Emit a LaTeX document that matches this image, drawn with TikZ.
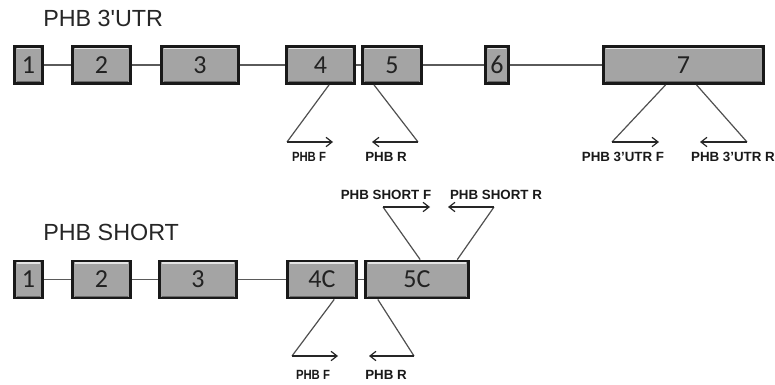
\documentclass[tikz,border=0pt]{standalone}
\usepackage{fontspec}
\setmainfont{Liberation Sans}
\newfontfamily\numfont{Carlito}
\usetikzlibrary{arrows.meta,calc}
\definecolor{exonfill}{HTML}{A4A4A4}
\definecolor{intron}{HTML}{5A5A5A}
\definecolor{primer}{HTML}{505050}
\definecolor{numcol}{HTML}{222222}
\tikzset{
  exon/.style={draw=black!90, line width=2.1pt, fill=exonfill, rectangle, inner sep=0pt,
    minimum width=#1*0.75pt-2.1pt, minimum height=37*0.75pt,
    font=\numfont\fontsize{19.5}{20}\selectfont, text=numcol,
    path picture={
      \draw[line width=1.1pt, white!72!exonfill]
        ([xshift=1.6pt,yshift=-1.5pt]path picture bounding box.north west) --
        ([xshift=-1.6pt,yshift=-1.5pt]path picture bounding box.north east);
      \draw[line width=1pt, black!35!exonfill]
        ([xshift=1.6pt,yshift=1.3pt]path picture bounding box.south west) --
        ([xshift=-1.6pt,yshift=1.3pt]path picture bounding box.south east);
    }},
  intronline/.style={draw=intron, line width=1.1pt},
  primerline/.style={draw=primer, line width=0.9pt},
  primerarrow/.style={draw=black!85, line width=0.9pt, -{Straight Barb[length=4.5pt,width=7pt]}},
  title/.style={inner sep=0pt, anchor=base west, font=\fontsize{17.5}{18}\selectfont, text=black!85},
  plabel/.style={inner sep=0pt, font=\bfseries\fontsize{10}{11}\selectfont, text=black!90},
}
\begin{document}
\begin{tikzpicture}[x=0.75pt,y=-0.75pt]
\useasboundingbox[fill=white] (0,0) rectangle (775,385);

% titles
\node[title] (t1) at (43,27) {PHB 3\textquotesingle UTR};
\node[title] (t2) at (43,240) {PHB SHORT};

% top row exons
\node[exon=31] (a1) at (28.5,65) {1};
\node[exon=61] (a2) at (101.5,65) {2};
\node[exon=80] (a3) at (200,65) {3};
\node[exon=71] (a4) at (320.5,65) {4};
\node[exon=62] (a5) at (392,65) {5};
\node[exon=26] (a6) at (497,65) {6};
\node[exon=163] (a7) at (683.5,65) {7};
\draw[intronline] (a1) -- (a2);
\draw[intronline] (a2) -- (a3);
\draw[intronline] (a3) -- (a4);
\draw[intronline] (a4) -- (a5);
\draw[intronline] (a5) -- (a6);
\draw[intronline] (a6) -- (a7);

% bottom row exons
\node[exon=31] (b1) at (28.5,279.5) {1};
\node[exon=61] (b2) at (101.5,279.5) {2};
\node[exon=80] (b3) at (198,279.5) {3};
\node[exon=72] (b4) at (322,279.5) {4C};
\node[exon=106] (b5) at (417,279.5) {5C};
\draw[intronline] (b1) -- (b2);
\draw[intronline] (b2) -- (b3);
\draw[intronline] (b3) -- (b4);
\draw[intronline] (b4) -- (b5);

% top primers
\coordinate (pf4s) at ($(a4.south west)!0.62!(a4.south east)$);
\coordinate (pf4c) at (287,142);
\coordinate (pf4e) at (333,142);
\draw[primerline] (pf4s) -- (pf4c);
\draw[primerarrow] (pf4c) -- (pf4e);
\node[plabel, xscale=0.85] (lf4) at (309,156.5) {PHB F};

\coordinate (pr5s) at ($(a5.south west)!0.21!(a5.south east)$);
\coordinate (pr5c) at (418,142);
\coordinate (pr5e) at (372,142);
\draw[primerline] (pr5s) -- (pr5c);
\draw[primerarrow] (pr5c) -- (pr5e);
\node[plabel] (lr5) at (386,156.5) {PHB R};

\coordinate (pf7s) at ($(a7.south west)!0.39!(a7.south east)$);
\coordinate (pf7c) at (612,142);
\coordinate (pf7e) at (659,142);
\draw[primerline] (pf7s) -- (pf7c);
\draw[primerarrow] (pf7c) -- (pf7e);
\node[plabel] (lf7) at (623,156.5) {PHB 3'UTR F};

\coordinate (pr7s) at ($(a7.south west)!0.58!(a7.south east)$);
\coordinate (pr7c) at (747,142);
\coordinate (pr7e) at (700,142);
\draw[primerline] (pr7s) -- (pr7c);
\draw[primerarrow] (pr7c) -- (pr7e);
\node[plabel] (lr7) at (733,156.5) {PHB 3'UTR R};

% bottom primers
\coordinate (qf4s) at ($(b4.south west)!0.67!(b4.south east)$);
\coordinate (qf4c) at (292,356);
\coordinate (qf4e) at (338,356);
\draw[primerline] (qf4s) -- (qf4c);
\draw[primerarrow] (qf4c) -- (qf4e);
\node[plabel, xscale=0.85] (mf4) at (313,375) {PHB F};

\coordinate (qr5s) at ($(b5.south west)!0.13!(b5.south east)$);
\coordinate (qr5c) at (414,356);
\coordinate (qr5e) at (369,356);
\draw[primerline] (qr5s) -- (qr5c);
\draw[primerarrow] (qr5c) -- (qr5e);
\node[plabel] (mr5) at (386,375) {PHB R};

\coordinate (sfs) at ($(b5.north west)!0.53!(b5.north east)$);
\coordinate (sfc) at (383,207);
\coordinate (sfe) at (430,207);
\draw[primerline] (sfs) -- (sfc);
\draw[primerarrow] (sfc) -- (sfe);
\node[plabel] (msf) at (386,195) {PHB SHORT F};

\coordinate (srs) at ($(b5.north west)!0.88!(b5.north east)$);
\coordinate (src) at (494,207);
\coordinate (sre) at (448,207);
\draw[primerline] (srs) -- (src);
\draw[primerarrow] (src) -- (sre);
\node[plabel] (msr) at (496,195) {PHB SHORT R};
\end{tikzpicture}
\end{document}
